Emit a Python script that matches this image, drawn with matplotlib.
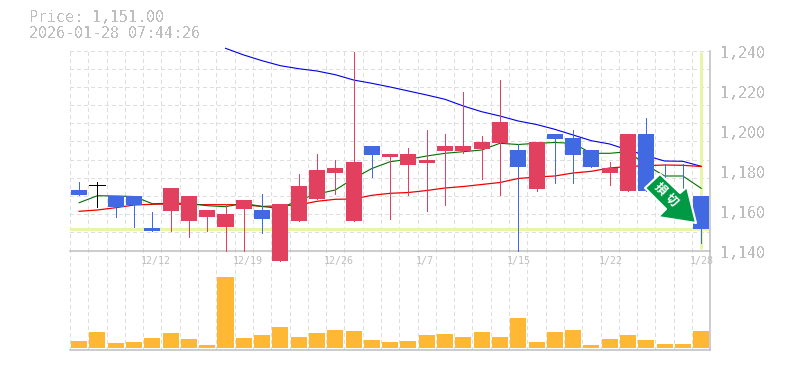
import numpy as np
import matplotlib
matplotlib.use("Agg")
import matplotlib.pyplot as plt
from matplotlib.patches import Polygon
from matplotlib.transforms import Affine2D

# Candles, oldest first
opens = [1170.25, 1173, 1167.25, 1167.25, 1151.25, 1159.75, 1154.75, 1156.75, 1151.75, 1160.75, 1160.25, 1135,
         1154.75, 1165.75, 1178.75, 1154.75, 1192.25, 1186.75, 1182.75, 1183.75, 1189.75, 1189.75, 1190.75, 1193.75,
         1190.25, 1170.75, 1198.25, 1196.25, 1190.25, 1178.75, 1169.75, 1198.25, 1171, 1165, 1167.25]
closes = [1167.75, 1173, 1161.75, 1162.75, 1149.75, 1171.25, 1167.25, 1160.25, 1158.25, 1165.25, 1155.75, 1163.25,
          1172.25, 1180.25, 1181.25, 1184.25, 1187.75, 1188.25, 1188.25, 1185.25, 1192.25, 1192.25, 1194.25, 1204.25,
          1181.75, 1194.25, 1195.75, 1187.75, 1181.75, 1181.25, 1198.25, 1169.75, 1167, 1156, 1151]
highs = [1174.25, 1174.25, 1167.25, 1167.25, 1159.25, 1171.25, 1167.25, 1160.25, 1163.25, 1165.25, 1168.25, 1163.25,
         1178.25, 1188.25, 1185.25, 1239.25, 1192.25, 1188.25, 1191.25, 1200.25, 1198.25, 1219.25, 1197.25, 1225.25,
         1193.25, 1194.25, 1198.25, 1200.25, 1190.25, 1184.25, 1198.25, 1206.25, 1183.25, 1183.25, 1167.25]
lows = [1167.75, 1161.9, 1156.9, 1151.75, 1149.75, 1149.75, 1146.75, 1149.75, 1140, 1140, 1148.75, 1135,
        1154.75, 1165.75, 1168.25, 1154.75, 1176.75, 1155.75, 1167.75, 1159.75, 1162.75, 1188.6, 1175.75, 1167.75,
        1140, 1169.75, 1173.75, 1173.75, 1181.75, 1172.75, 1169.75, 1169.75, 1167, 1156, 1143.75]

# Moving averages
ma_long = [None] * 8 + [1241.1, 1237.75, 1234.9, 1232.4, 1230.9, 1229.75, 1227.9, 1225.25, 1223.6, 1221.75, 1219.75,
                        1217.75, 1215.6, 1212.25, 1209.4, 1207.25, 1204.75, 1203, 1200.6, 1197.75, 1194.9, 1193.25,
                        1190.25, 1187.4, 1184.75, 1184.6, 1182.1]
ma_mid = [1159.6, 1160.25, 1161.4, 1162.75, 1163.1, 1163.25, 1163, 1162.9, 1162.9, 1162.9, 1162, 1162.4, 1162.75,
          1164.6, 1165.6, 1165.75, 1167.6, 1168.6, 1169, 1170, 1171.25, 1172, 1173, 1174, 1176, 1176.75, 1177.25,
          1178.75, 1179.6, 1181.25, 1182, 1182.4, 1182.75, 1182.6, 1182]
ma_short = [1163.9, 1167.4, 1167.25, 1167, 1163.4, 1163.6, 1163.6, 1162.4, 1161.9, 1163.6, 1162, 1161, 1165.25,
            1168.25, 1170.25, 1176, 1181, 1184.4, 1185.6, 1187.25, 1188.6, 1189.4, 1190.25, 1193.6, 1193, 1193.6,
            1194, 1193.6, 1188.6, 1188.6, 1189.4, 1182.75, 1177.25, 1177.25, 1171.1]

volumes = [7, 16, 5, 6, 10, 15, 9, 3, 71, 10, 13, 21, 11, 15, 18, 17, 8, 6, 7, 13, 14, 11, 16, 11, 30, 6, 16, 18, 3,
           9, 13, 8, 4, 4, 17]

y_ticks = [1240, 1220, 1200, 1180, 1160, 1140]
y_tick_labels = ["1,240", "1,220", "1,200", "1,180", "1,160", "1,140"]
date_pos = [4, 9, 14, 19, 24, 29, 34]
date_labels = ["12/12", "12/19", "12/26", "1/7", "1/15", "1/22", "1/28"]
last_price = 1151

W, H = 785, 370
GRAY = "#BEBEBE"
GRID = "#DEDEDE"
RED = "#E2405F"
BLUE = "#4169E1"
ORANGE = "#FFB833"
HILITE = "#E6F5A8"
MONO = "DejaVu Sans Mono"
PX = 0.72  # one pixel in points at dpi 100


def px_axes(fig, left, top, right, bottom):
    return fig.add_axes([left / W, 1 - bottom / H, (right - left) / W, (bottom - top) / H])


def style_grid(ax, x):
    ax.set_xticks(x)
    ax.tick_params(length=0, labelbottom=False, labelleft=False)
    ax.grid(True, color=GRID, lw=PX, linestyle=(0, (3, 3)), antialiased=False)
    ax.set_axisbelow(True)
    ax.patch.set_alpha(0)
    ax.set_xlim(-0.5, len(volumes) - 0.5)


fig = plt.figure(figsize=(W / 100, H / 100), dpi=100)
idx = np.arange(len(closes))
grid_x = np.arange(len(closes) + 1) - 0.5
body_w = 16 / 18.286

# Volume panel
ax_vol = px_axes(fig, 70, 250.5, 710.3, 350)
style_grid(ax_vol, grid_x)
ax_vol.set_ylim(-2, 97.5)
ax_vol.set_yticks([])
ax_vol.bar(idx, volumes, width=body_w, color=ORANGE, zorder=3)
for side in ["top", "left"]:
    ax_vol.spines[side].set_visible(False)
for side in ["right", "bottom"]:
    ax_vol.spines[side].set_color(GRAY)
    ax_vol.spines[side].set_linewidth(1.1)

# Price panel
ax = px_axes(fig, 70, 50.5, 710.3, 250.5)
ax.set_zorder(2)
style_grid(ax, grid_x)
ax.set_ylim(1140, 1240)
ax.set_yticks(np.linspace(1140, 1240, 12))
for side in ["top", "left"]:
    ax.spines[side].set_visible(False)
for side in ["right", "bottom"]:
    ax.spines[side].set_color(GRAY)
    ax.spines[side].set_linewidth(1.1)

# current price cross
ax.axhline(last_price, color=HILITE, lw=3 * PX, zorder=1.5)
ax.plot([idx[-1], idx[-1]], [1239.5, 1141], color=HILITE, lw=3 * PX, zorder=1.5, solid_capstyle="butt")

long_x = [i for i, v in enumerate(ma_long) if v is not None]
long_y = [v for v in ma_long if v is not None]
ax.plot(long_x, long_y, color="#0000E6", lw=0.8, zorder=2, clip_on=False)
ax.plot(idx, ma_mid, color="#F00000", lw=0.9, zorder=2)
ax.plot(idx, ma_short, color="#007000", lw=0.8, zorder=2)

for i in idx:
    if closes[i] > opens[i]:
        c = RED
    elif closes[i] < opens[i]:
        c = BLUE
    else:
        c = "black"
    ax.vlines(i, lows[i], highs[i], color=c, lw=PX, zorder=3, clip_on=False, antialiased=False)
    if c == "black":
        ax.hlines(closes[i], i - body_w / 2, i + body_w / 2, color=c, lw=PX, zorder=3, antialiased=False)
    else:
        ax.bar(i, abs(closes[i] - opens[i]), bottom=min(opens[i], closes[i]), width=body_w,
               color=c, zorder=4, clip_on=False)

# y labels sit a little under their value
for v, s in zip(y_ticks, y_tick_labels):
    ax.annotate(s, (1, v), xycoords=ax.get_yaxis_transform(), xytext=(7, -2.2), textcoords="offset points",
                ha="left", va="center", family=MONO, fontsize=10.8, color=GRAY, annotation_clip=False,
                antialiased=False)

for p, s in zip(date_pos, date_labels):
    ax.annotate(s, (p, 1140), xytext=(-8, -7.8), textcoords="offset points", ha="left", va="center",
                family=MONO, fontsize=7.2, color=GRAY, annotation_clip=False, zorder=5)

fig.text(29 / W, 1 - 18 / H, "Price: 1,151.00", family=MONO, fontsize=10.8, color=GRAY, va="center",
         antialiased=False)
fig.text(29 / W, 1 - 33 / H, "2026-01-28 07:44:26", family=MONO, fontsize=10.8, color=GRAY, va="center",
         antialiased=False)

# stop-loss arrow badge, placed in pixels
to_px = Affine2D().scale(1, -1).translate(0, H)
arrow = [(660, 174), (645, 188), (666, 209), (658, 217), (696, 223), (687, 187), (680, 193)]
fig.add_artist(Polygon(arrow, closed=True, facecolor="#009944", edgecolor="white", lw=1.5,
                       joinstyle="round", transform=to_px, zorder=5))
for s, px, py in [("損", 660.5, 189.5), ("切", 671, 200.5)]:
    fig.text(px / W, 1 - py / H, s, family=["Noto Sans CJK JP", "DejaVu Sans"], fontsize=8.8, fontweight="bold",
             color="white", rotation=-45, rotation_mode="anchor", ha="center", va="center", zorder=6)

fig.savefig("out.png", dpi=100)
